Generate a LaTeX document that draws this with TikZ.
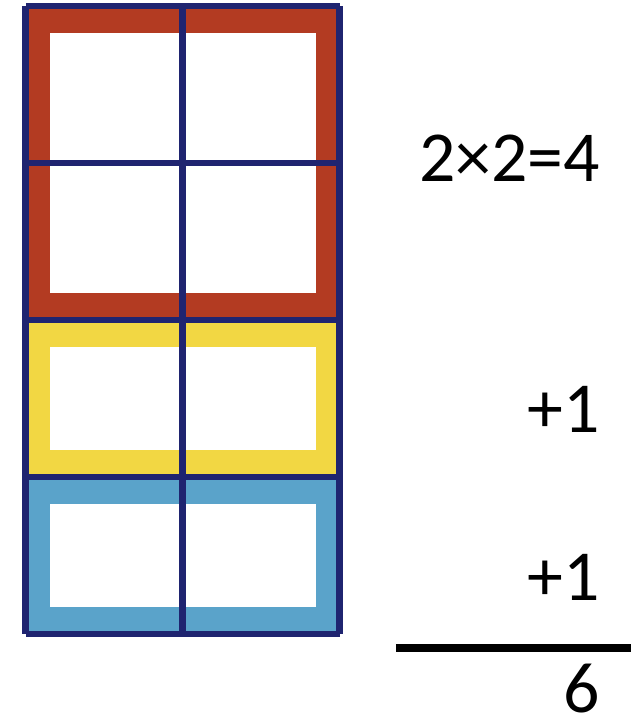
\documentclass[tikz,border=0pt]{standalone}
\usepackage{xcolor}
\definecolor{gridnavy}{HTML}{1F2470}
\definecolor{blockred}{HTML}{B33B22}
\definecolor{blockyellow}{HTML}{F2D743}
\definecolor{blockblue}{HTML}{5AA3CA}
\usepackage{fontspec}
\setmainfont{Carlito}
\usepackage{tikz}
\usetikzlibrary{positioning}

\begin{document}
\begin{tikzpicture}[x=2cm,y=2cm]
\tikzset{
 gridline/.style={draw=gridnavy,line width=2.5pt},
 hole/.style={fill=white},
 sumtext/.style={anchor=east,inner sep=0pt,font=\fontsize{26}{30}\selectfont},
 sumrule/.style={line width=2.9pt}
}
\useasboundingbox (-0.165,-0.567) rectangle (3.886,4.038);
% coloured blocks
\fill[blockred] (0,2) rectangle (2,4);
\fill[hole] (0.155,2.17) rectangle (1.845,3.83);
\fill[blockyellow] (0,1) rectangle (2,2);
\fill[hole] (0.155,1.17) rectangle (1.845,1.83);
\fill[blockblue] (0,0) rectangle (2,1);
\fill[hole] (0.155,0.17) rectangle (1.845,0.83);
% grid on top
\draw[gridline,step=1] (0,0) grid (2,4);
% the sum
\node[sumtext] (square) at (3.66,3.03) {2×2=4};
\node[sumtext] (plusa) at (3.66,1.43) {+1};
\node[sumtext] (plusb) at (3.66,0.36) {+1};
\coordinate (ruleleft) at (2.356,-0.09);
\coordinate (ruleright) at (3.854,-0.09);
\draw[sumrule] (ruleleft) -- (ruleright);
\node[sumtext] (total) at (3.66,-0.35) {6};
\end{tikzpicture}
\end{document}
